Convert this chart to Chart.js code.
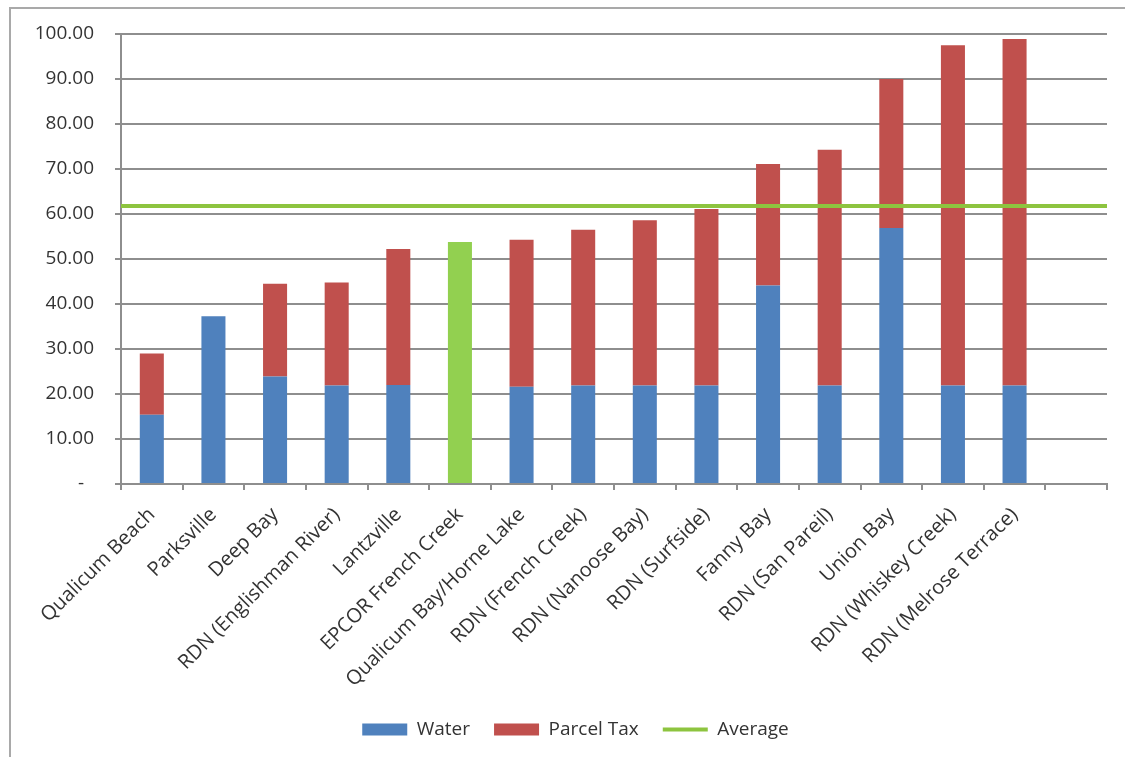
<!DOCTYPE html>
<html>
<head>
<meta charset="utf-8">
<script src="https://cdn.jsdelivr.net/npm/chart.js@4.4.0/dist/chart.umd.min.js"></script>
<style>
  html, body { margin: 0; padding: 0; background: #fff; overflow: hidden; }
  #frame { position: absolute; left: 9px; top: 7px; width: 1300px; height: 900px;
           border-left: 2px solid #a9a9a9; border-top: 2px solid #a9a9a9; }
  #wrap { position: absolute; left: 0; top: 0; width: 1125px; height: 757px; }
</style>
</head>
<body>
<div id="frame"></div>
<div id="wrap"><canvas id="chart" width="1125" height="757"></canvas></div>
<script>
// Annual cost per system, split into water charge and parcel tax
const categories = [
  'Qualicum Beach', 'Parksville', 'Deep Bay', 'RDN (Englishman River)', 'Lantzville',
  'EPCOR French Creek', 'Qualicum Bay/Horne Lake', 'RDN (French Creek)', 'RDN (Nanoose Bay)',
  'RDN (Surfside)', 'Fanny Bay', 'RDN (San Pareil)', 'Union Bay', 'RDN (Whiskey Creek)',
  'RDN (Melrose Terrace)', ''
];
const water     = [15.4, 37.3, 23.9, 21.9, 22.0, 53.8, 21.6, 21.9, 21.9, 21.9, 44.1, 21.9, 56.9, 21.9, 21.9, null];
const parcelTax = [13.6, 0,    20.6, 22.9, 30.2, 0,    32.7, 34.6, 36.7, 39.2, 27.0, 52.4, 33.1, 75.6, 77.0, null];
const averageCost = [61.8];
const yTickValues = [0, 10, 20, 30, 40, 50, 60, 70, 80, 90, 100];
const highlighted = ['EPCOR French Creek'];

const BLUE = '#4F81BD', RED = '#C0504D', BAR_GREEN = '#92D050', LINE_GREEN = '#8DC43F';
const GRID = '#8e8e8e', TEXT = '#333333';
const FONT = { family: "'Open Sans', 'Liberation Sans', sans-serif", size: 19 };
const XFONT = { family: "'Open Sans', 'Liberation Sans', sans-serif", size: 20 };

const waterColors = categories.map(c => highlighted.includes(c) ? BAR_GREEN : BLUE);

// nudge the legend row a little to the right of the canvas centre
const legendShift = {
  id: 'legendShift',
  afterLayout(chart) {
    if (chart.legend) { chart.legend.left += 12; chart.legend.right += 12; }
  }
};

new Chart(document.getElementById('chart'), {
  data: {
    labels: categories,
    datasets: [
      {
        type: 'bar', label: 'Water', data: water, stack: 'cost', grouped: false,
        backgroundColor: waterColors, borderWidth: 0,
        barPercentage: 0.39, categoryPercentage: 1, pointStyle: 'rect', order: 1
      },
      {
        type: 'bar', label: 'Parcel Tax', data: parcelTax, stack: 'cost', grouped: false,
        backgroundColor: RED, borderWidth: 0,
        barPercentage: 0.39, categoryPercentage: 1, pointStyle: 'rect', order: 1
      },
      {
        type: 'line', label: 'Average',
        data: [{ x: 0, y: averageCost[0] }, { x: 1, y: averageCost[0] }],
        xAxisID: 'xLine', yAxisID: 'y', stack: 'average',
        borderColor: LINE_GREEN, backgroundColor: LINE_GREEN, borderWidth: 4,
        pointRadius: 0, pointStyle: 'line', order: 0
      }
    ]
  },
  plugins: [legendShift],
  options: {
    responsive: false,
    animation: false,
    devicePixelRatio: 1,
    layout: { padding: { left: 20, right: 18, top: 34, bottom: 8 } },
    plugins: {
      tooltip: { enabled: false },
      legend: {
        position: 'bottom',
        labels: {
          usePointStyle: true, pointStyleWidth: 45, boxHeight: 12,
          padding: 24, color: TEXT, font: FONT,
          sort: (a, b) => a.datasetIndex - b.datasetIndex
        }
      }
    },
    scales: {
      x: {
        type: 'category', stacked: true, offset: true,
        grid: { display: true, drawOnChartArea: false, drawTicks: true, tickLength: 6,
                color: GRID, lineWidth: 2, offset: true },
        border: { display: true, color: GRID, width: 2 },
        ticks: { autoSkip: false, minRotation: 45, maxRotation: 45, padding: 13,
                 color: TEXT, font: XFONT },
        afterFit: s => { s.height = 212; }
      },
      xLine: { type: 'linear', display: false, min: 0, max: 1 },
      y: {
        stacked: true, min: 0, max: 100,
        afterBuildTicks: s => { s.ticks = yTickValues.map(v => ({ value: v })); },
        ticks: {
          padding: 21, color: TEXT, font: FONT,
          callback: v => v === 0 ? '-  ' : Number(v).toFixed(2)
        },
        grid: { color: GRID, lineWidth: 2, tickLength: 6 },
        border: { display: true, color: GRID, width: 2 },
        afterFit: s => { s.width = 101; }
      }
    }
  }
});
</script>
</body>
</html>
